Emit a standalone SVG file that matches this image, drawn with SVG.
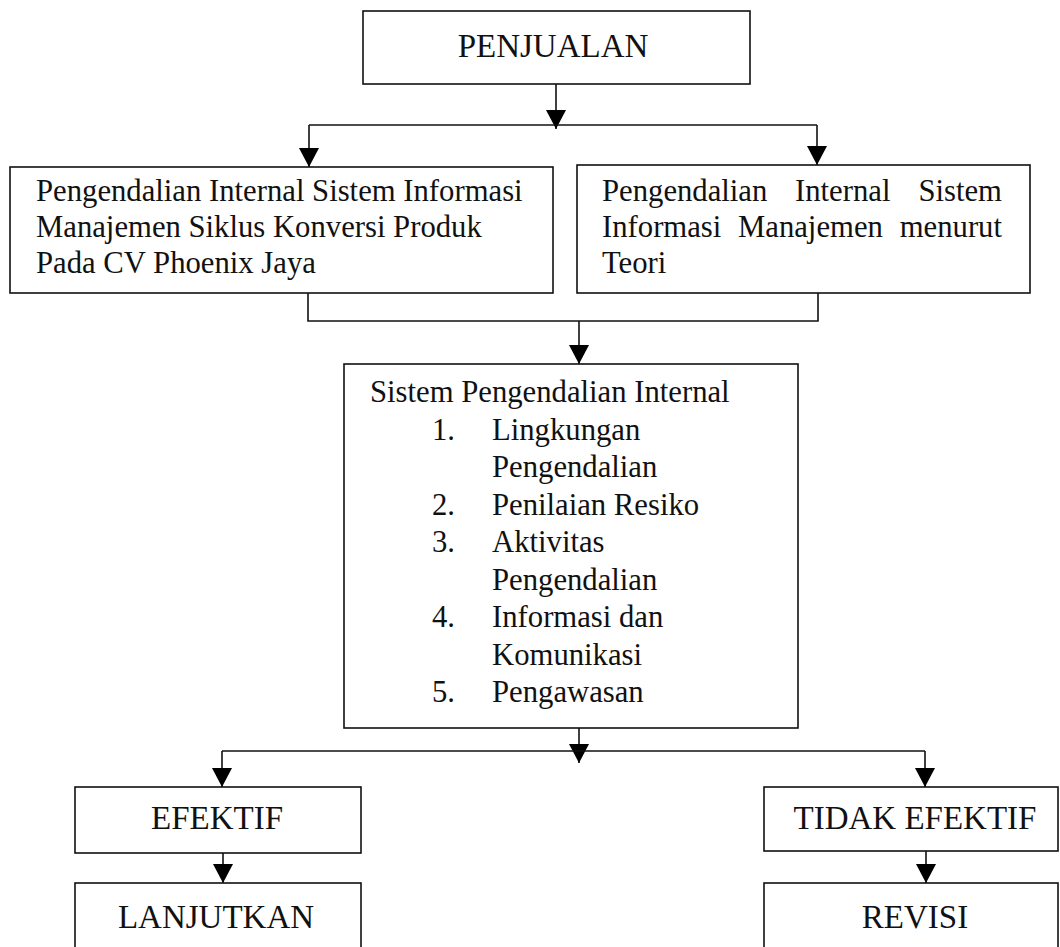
<svg xmlns="http://www.w3.org/2000/svg" width="1060" height="947" viewBox="0 0 1060 947">
  <defs>
    <marker id="arrow" viewBox="0 0 19 20" refX="19" refY="10" markerWidth="19" markerHeight="20" markerUnits="userSpaceOnUse" orient="auto">
      <path d="M0,0 L19,10 L0,20 z" fill="#000"/>
    </marker>
    <style>
      .box { fill: #fff; stroke: #111; stroke-width: 1.6; }
      .conn { fill: none; stroke: #111; stroke-width: 1.6; }
      .arr { marker-end: url(#arrow); }
      text { font-family: 'Liberation Serif', 'Times New Roman', Tinos, 'DejaVu Serif', serif; fill: #111; }
      .title { font-size: 33px; text-anchor: middle; }
      .body { font-size: 30.7px; }
    </style>
  </defs>
  <rect width="1060" height="947" fill="#fff"/>

  <g id="connectors">
    <path class="conn arr" d="M556,84 V129"/>
    <path class="conn" d="M309,125 H817"/>
    <path class="conn arr" d="M309,125 V167"/>
    <path class="conn arr" d="M817,125 V165"/>
    <path class="conn" d="M308,293 V321 H818 V293"/>
    <path class="conn arr" d="M579,321 V364"/>
    <path class="conn arr" d="M579,728 V763"/>
    <path class="conn" d="M222,751 H925"/>
    <path class="conn arr" d="M222,751 V787"/>
    <path class="conn arr" d="M925,751 V787"/>
    <path class="conn arr" d="M223,853 V883"/>
    <path class="conn arr" d="M926,851 V883"/>
  </g>

  <g id="penjualan">
    <rect class="box" x="363" y="11" width="387" height="73"/>
    <text class="title" x="553" y="57" font-family="Liberation Serif, serif">PENJUALAN</text>
  </g>

  <g id="pengendalian-cv">
    <rect class="box" x="10" y="167" width="543" height="126"/>
    <text class="body" x="36" y="201">Pengendalian Internal Sistem Informasi</text>
    <text class="body" x="36" y="237">Manajemen Siklus Konversi Produk</text>
    <text class="body" x="36" y="273">Pada CV Phoenix Jaya</text>
  </g>

  <g id="pengendalian-teori">
    <rect class="box" x="577" y="165" width="453" height="128"/>
    <text class="body" y="201"><tspan x="602">Pengendalian</tspan><tspan x="795">Internal</tspan><tspan x="1002" text-anchor="end">Sistem</tspan></text>
    <text class="body" y="237"><tspan x="602">Informasi</tspan><tspan x="738">Manajemen</tspan><tspan x="1002" text-anchor="end">menurut</tspan></text>
    <text class="body" x="602" y="273">Teori</text>
  </g>

  <g id="spi">
    <rect class="box" x="344" y="364" width="454" height="364"/>
    <text class="body" x="370" y="402">Sistem Pengendalian Internal</text>
    <text class="body" x="432" y="439.5">1.</text>
    <text class="body" x="492" y="439.5">Lingkungan</text>
    <text class="body" x="492" y="477">Pengendalian</text>
    <text class="body" x="432" y="514.5">2.</text>
    <text class="body" x="492" y="514.5">Penilaian Resiko</text>
    <text class="body" x="432" y="552">3.</text>
    <text class="body" x="492" y="552">Aktivitas</text>
    <text class="body" x="492" y="589.5">Pengendalian</text>
    <text class="body" x="432" y="627">4.</text>
    <text class="body" x="492" y="627">Informasi dan</text>
    <text class="body" x="492" y="664.5">Komunikasi</text>
    <text class="body" x="432" y="702">5.</text>
    <text class="body" x="492" y="702">Pengawasan</text>
  </g>

  <g id="efektif">
    <rect class="box" x="75" y="787" width="286" height="66"/>
    <text class="title" x="217" y="829">EFEKTIF</text>
  </g>

  <g id="lanjutkan">
    <rect class="box" x="75" y="883" width="286" height="90"/>
    <text class="title" x="216" y="928">LANJUTKAN</text>
  </g>

  <g id="tidak-efektif">
    <rect class="box" x="764" y="787" width="294" height="64"/>
    <text class="title" x="915" y="829">TIDAK EFEKTIF</text>
  </g>

  <g id="revisi">
    <rect class="box" x="764" y="883" width="294" height="90"/>
    <text class="title" x="915" y="928">REVISI</text>
  </g>
</svg>
